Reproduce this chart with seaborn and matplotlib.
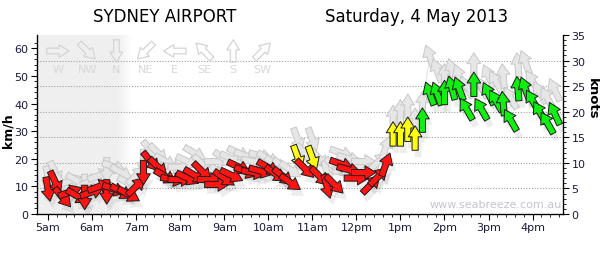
import numpy as np
import pandas as pd
import matplotlib
matplotlib.use("Agg")
import matplotlib.pyplot as plt
import seaborn as sns
from matplotlib.path import Path
from matplotlib.markers import MarkerStyle
from matplotlib.transforms import Affine2D, ScaledTranslation
from matplotlib.colors import LinearSegmentedColormap

# ---------------- data ----------------
times = ["5:00", "5:10", "5:20", "5:30", "5:40", "5:50",
         "6:00", "6:10", "6:20", "6:30", "6:40", "6:50",
         "7:00", "7:10", "7:20", "7:30", "7:40", "7:50",
         "8:00", "8:10", "8:20", "8:30", "8:40", "8:50",
         "9:00", "9:10", "9:20", "9:30", "9:40", "9:50",
         "10:00", "10:10", "10:20", "10:30", "10:40", "10:50",
         "11:00", "11:10", "11:20", "11:30", "11:40", "11:50",
         "12:00", "12:10", "12:20", "12:30", "12:40", "12:50",
         "13:00", "13:10", "13:20", "13:30", "13:40", "13:50",
         "14:00", "14:10", "14:20", "14:30", "14:40", "14:50",
         "15:00", "15:10", "15:20", "15:30", "15:40", "15:50",
         "16:00", "16:10", "16:20", "16:30"]

speed_kmh = [9, 11.5, 6, 8, 6.5, 6,
             8, 10, 8, 9, 8, 7,
             10, 15, 19, 17, 13.6, 12.5,
             12.5, 13, 14, 15.4, 12.5, 10.7,
             13, 14, 17, 15.4, 15, 15.5,
             16.8, 14.5, 13.6, 11.4, 20.7, 16.4,
             20.4, 13.6, 10, 10.7, 18, 16,
             13, 15, 10.7, 13.6, 17.9, 29,
             29, 30.7, 27.5, 34, 43.6, 43.6,
             44, 45.7, 45.4, 38, 47, 38,
             43.6, 41, 40, 34, 45.4, 45.4,
             41, 36.8, 33, 36.4]

gust_kmh = [13, 15, 11, 12, 12, 10,
            12, 14, 16, 17, 15, 11,
            14, 19, 23, 22, 19, 17,
            17, 19, 22, 18, 16, 19,
            20, 20, 22, 21, 19, 21,
            20, 18, 17, 16, 27, 22,
            27, 20, 15, 17, 22, 20,
            18, 19, 16, 19, 24, 35,
            37, 39, 34, 40, 57, 52,
            50, 52, 50, 46, 54, 46,
            50, 48, 50, 42, 54, 55,
            48, 44, 42, 45]

# wind direction (degrees the wind comes FROM)
dir_from = [350, 335, 320, 250, 300, 0,
            250, 250, 0, 290, 300, 300,
            225, 0, 320, 315, 300, 280,
            270, 295, 300, 315, 270, 270,
            305, 295, 295, 290, 280, 285,
            300, 305, 310, 305, 340, 315,
            340, 315, 345, 315, 290, 285,
            270, 270, 225, 225, 200, 180,
            180, 180, 180, 180, 160, 160,
            180, 165, 160, 150, 180, 150,
            155, 150, 175, 150, 175, 160,
            150, 150, 150, 155]

band = (["red"] * 34 + ["yellow", "red", "yellow"] + ["red"] * 10
        + ["yellow"] * 4 + ["green"] * 19)

compass_labels = ["W", "NW", "N", "NE", "E", "SE", "S", "SW"]
compass_from = [270, 315, 0, 45, 90, 135, 180, 225]

hour_ticks = [5, 6, 7, 8, 9, 10, 11, 12, 13, 14, 15, 16]
hour_labels = ["5am", "6am", "7am", "8am", "9am", "10am", "11am",
               "12pm", "1pm", "2pm", "3pm", "4pm"]

KMH_PER_KNOT = 1.852

# ---------------- frame ----------------
def to_hour(s):
    h, m = s.split(":")
    return int(h) + int(m) / 60.0

df = pd.DataFrame({
    "hour": [to_hour(t) for t in times],
    "speed": speed_kmh,
    "gust": gust_kmh,
    "dir": dir_from,
    "band": band,
})
df["pid"] = [f"p{i}" for i in range(len(df))]

# arrow shape pointing +x
arrow = Path(
    [(-1, -0.25), (0.1, -0.25), (0.1, -0.56), (1, 0), (0.1, 0.56),
     (0.1, 0.25), (-1, 0.25), (-1, -0.25)],
    [Path.MOVETO] + [Path.LINETO] * 6 + [Path.CLOSEPOLY])

def arrow_marker(frm):
    ang = -90 - frm
    return MarkerStyle(arrow, transform=Affine2D().rotate_deg(ang))

markers = {p: arrow_marker(d) for p, d in zip(df["pid"], df["dir"])}
ARROW_S = 310

plt.rcParams["font.family"] = ["DejaVu Sans"]
fig = plt.figure(figsize=(6, 2.55), dpi=100)
ax = fig.add_axes([37 / 600, 1 - 215 / 255, 526 / 600, 179 / 255])

XMIN, XMAX = 4.75, 16.69
YMAX = 35 * KMH_PER_KNOT
ax.set_xlim(XMIN, XMAX)
ax.set_ylim(0, YMAX)

# night shading with fade
xs = np.linspace(XMIN, 7.0, 300)
shade = np.clip((6.9 - xs) / 0.35, 0, 1)[None, :]
cmap = LinearSegmentedColormap.from_list("sh", ["#ffffff", "#efefef"])
ax.imshow(shade, extent=[XMIN, 7.0, 0, YMAX], aspect="auto", cmap=cmap,
          vmin=0, vmax=1, zorder=0, interpolation="bilinear")

# dotted grid at knot multiples
for k in [5, 10, 15, 20, 25, 30]:
    ax.axhline(k * KMH_PER_KNOT, color="#a0a0a0", lw=0.8, ls=(0, (1, 1.5)), zorder=1)

# compass legend
for k, (lab, frm) in enumerate(zip(compass_labels, compass_from)):
    xf = (58 + 29.2 * k - 37) / 526
    ax.scatter([xf], [(215 - 52) / 179], transform=ax.transAxes,
               marker=arrow_marker(frm), s=260, facecolors="none",
               edgecolors="#d4d4d4", linewidths=0.9, zorder=1.5)
    ax.text(xf, (215 - 70) / 179, lab, transform=ax.transAxes, ha="center",
            va="center", fontsize=8, color="#d8d8d8", zorder=1.5)

# gust line
sns.lineplot(data=df, x="hour", y="gust", color="#e2e2e2", lw=0.8,
             ax=ax, zorder=2, legend=False)

# gust arrows
sns.scatterplot(data=df, x="hour", y="gust", style="pid", markers=markers,
                color="#e6e6e6", edgecolor="#c8c8c8", linewidth=0.7,
                s=ARROW_S, legend=False, ax=ax, zorder=3)

# shadows of speed arrows
sns.scatterplot(data=df, x="hour", y="speed", style="pid", markers=markers,
                color="#000000", alpha=0.07, linewidth=0,
                s=ARROW_S * 1.15, legend=False, ax=ax, zorder=3.5)
ax.collections[-1].set_offset_transform(
    ax.transData + ScaledTranslation(3 / 100, -6 / 100, fig.dpi_scale_trans))

# speed arrows
pal = {"red": "#ff1414", "yellow": "#ffff10", "green": "#10f010"}
sns.scatterplot(data=df, x="hour", y="speed", hue="band", palette=pal,
                style="pid", markers=markers, edgecolor="#1a1a1a",
                linewidth=0.7, s=ARROW_S, legend=False, ax=ax, zorder=5)

# axes styling
ax.set_xlabel("")
ax.set_ylabel("km/h", fontsize=9, fontweight="bold", va="center")
ax.yaxis.set_label_coords((8 - 37) / 526, 0.47)
ax.set_xticks(hour_ticks)
ax.set_xticklabels(hour_labels)
ax.set_xticks(np.arange(5, 16.7, 0.2), minor=True)
ax.set_yticks([0, 10, 20, 30, 40, 50, 60])
ax.set_yticks(np.arange(0, 64, 2), minor=True)
tick_col = "#1a1a3a"
ax.tick_params(axis="both", which="major", labelsize=8, colors="#000000",
               labelcolor=tick_col, length=4, width=0.8, direction="out",
               pad=2)
ax.tick_params(axis="both", which="minor", length=2, width=0.6, direction="out")
ax.spines["top"].set_visible(False)
for s in ["left", "bottom", "right"]:
    ax.spines[s].set_linewidth(0.9)
    ax.spines[s].set_color("#000000")

ax2 = ax.twinx()
ax2.set_ylim(0, 35)
ax2.set_yticks([0, 5, 10, 15, 20, 25, 30, 35])
ax2.set_yticks(np.arange(0, 35.1, 1), minor=True)
ax2.tick_params(axis="y", which="major", labelsize=8, labelcolor=tick_col,
                length=4, width=0.8, direction="out", pad=2)
ax2.tick_params(axis="y", which="minor", length=2, width=0.6, direction="out")
ax2.spines["top"].set_visible(False)
ax2.set_ylabel("knots", fontsize=9.5, fontweight="bold", rotation=270,
               va="center")
ax2.yaxis.set_label_coords((592 - 37) / 526, 0.65)

# titles & watermark
fig.text(165 / 600, 1 - 17 / 255, "SYDNEY AIRPORT", ha="center", va="center",
         fontsize=12, color="#000000")
fig.text(417 / 600, 1 - 17 / 255, "Saturday, 4 May 2013", ha="center",
         va="center", fontsize=12, color="#000000")
ax.text((496 - 37) / 526, (215 - 205) / 179, "www.seabreeze.com.au",
        transform=ax.transAxes, ha="center", va="center", fontsize=8,
        color="#c4c4cc", zorder=1.5)

fig.savefig("out.png", dpi=100)
